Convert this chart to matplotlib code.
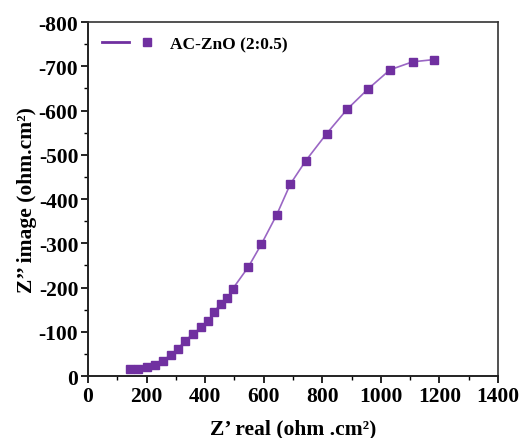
import matplotlib
matplotlib.use("Agg")
import matplotlib.pyplot as plt
from matplotlib.lines import Line2D
from matplotlib.legend_handler import HandlerTuple
from matplotlib.ticker import MultipleLocator, FuncFormatter

z_real = [143, 172, 200, 229, 257, 282, 306, 332, 360, 386, 411, 430, 453, 476, 494,
          547, 592, 644, 691, 744, 815, 885, 955, 1031, 1108, 1180]
z_imag = [-16, -16, -20, -26, -35, -48, -61, -80, -96, -110, -125, -145, -163, -176, -197,
          -246, -298, -364, -434, -487, -548, -603, -648, -692, -710, -715]
series_label = "AC-ZnO (2:0.5)"

plt.rcParams['font.family'] = ['Liberation Serif', 'DejaVu Serif']
plt.rcParams['font.weight'] = 'bold'
plt.rcParams['axes.unicode_minus'] = False

fig = plt.figure(figsize=(5.31, 4.39), dpi=100)
ax = fig.add_axes([0.1657, 0.1412, 0.938 - 0.1657, 0.9476 - 0.1412])

mcol = '#7030A0'
lcol = '#9A66C4'
ax.plot(z_real, z_imag, '-', color=lcol, lw=1.2, zorder=2)
ax.plot(z_real, z_imag, 's', color=mcol, ms=6, mec=mcol, zorder=3)

ax.set_xlim(0, 1400)
ax.set_ylim(0, -800)
ax.xaxis.set_major_locator(MultipleLocator(200))
ax.xaxis.set_minor_locator(MultipleLocator(100))
ax.yaxis.set_major_locator(MultipleLocator(100))
ax.yaxis.set_minor_locator(MultipleLocator(50))
ax.yaxis.set_major_formatter(FuncFormatter(lambda v, p: f"{int(round(v))}"))

ax.tick_params(which='major', direction='out', length=5, width=1.2, labelsize=15.5, pad=2)
ax.tick_params(which='minor', direction='out', length=3, width=1.0)
ax.tick_params(top=False, right=False, which='both')
for s in ['left', 'bottom']:
    ax.spines[s].set_linewidth(1.4)
    ax.spines[s].set_color('#222222')
for s in ['top', 'right']:
    ax.spines[s].set_linewidth(1.2)
    ax.spines[s].set_color('#333333')

for lab in ax.get_xticklabels() + ax.get_yticklabels():
    lab.set_fontweight('bold')

ax.set_xlabel("Z\u2019 real (ohm .cm\u00b2)", fontsize=15.5, fontweight='bold', labelpad=9)
ax.set_ylabel("Z\u2019\u2019 image (ohm.cm\u00b2)", fontsize=15.5, fontweight='bold', labelpad=1)

h_line = Line2D([], [], color=mcol, lw=2)
h_mark = Line2D([], [], color=mcol, marker='s', ls='none', ms=6)
ax.legend([(h_line, h_mark)], [series_label],
          handler_map={tuple: HandlerTuple(ndivide=None, pad=0.3)},
          loc='upper left', frameon=False, handlelength=3.4,
          prop={'weight': 'bold', 'size': 12.5}, borderaxespad=0.4, handletextpad=0.5)

fig.savefig("out.png", dpi=100)
